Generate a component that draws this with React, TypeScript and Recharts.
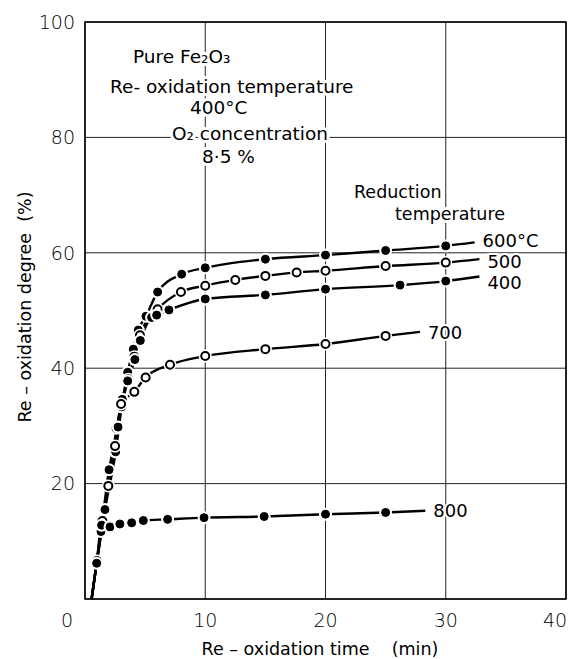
import React from 'react';
import { LineChart, Line, XAxis, YAxis, CartesianGrid, ReferenceArea } from 'recharts';

const WIDTH = 575;
const HEIGHT = 659;
const FONT = '"DejaVu Sans", sans-serif';

const xTicks = [0, 10, 20, 30, 40];
const yTicks = [20, 40, 60, 80, 100];

// [re-oxidation time (min), re-oxidation degree (%)]
const s600: [number, number][] = [
  [0.55, 0], [1.66, 15.5], [2.55, 25.5], [3.05, 33.3], [3.55, 39.3], [4.02, 43.3], [4.43, 46.6],
  [5.07, 49.0], [6.04, 53.2], [8.04, 56.3], [10, 57.4], [15, 58.9], [20, 59.6], [25, 60.4],
  [30, 61.2], [32.4, 61.8],
];
const s500: [number, number][] = [
  [0.55, 0], [1.0, 6.6], [1.94, 19.6], [2.63, 29.6], [3.6, 38.1], [4.1, 42.0], [4.57, 45.7],
  [6.04, 50.2], [7.98, 53.2], [10, 54.3], [12.5, 55.3], [15, 56.0], [17.6, 56.6], [20, 56.9],
  [25, 57.7], [30, 58.3], [32.8, 58.9],
];
const s400: [number, number][] = [
  [0.55, 0], [1.33, 11.7], [2.0, 22.4], [2.75, 29.8], [3.1, 34.6], [3.55, 37.8], [4.15, 41.5],
  [4.6, 44.8], [5.54, 48.8], [5.96, 49.2], [6.98, 50.1], [10, 52.0], [15, 52.7], [20, 53.7],
  [26.2, 54.4], [30, 55.1], [32.8, 55.9],
];
const s700: [number, number][] = [
  [0.55, 0], [1.45, 13.5], [2.5, 26.5], [3.0, 33.8], [4.1, 35.9], [5.04, 38.4], [7.07, 40.6],
  [10, 42.1], [15, 43.3], [20, 44.2], [25, 45.6], [27.85, 46.3],
];
const s800: [number, number][] = [
  [0.55, 0], [0.97, 6.2], [1.38, 12.8], [2.08, 12.5], [2.9, 13.0], [3.88, 13.2], [4.85, 13.6],
  [6.87, 13.8], [9.9, 14.1], [14.9, 14.3], [20, 14.7], [25, 15.0], [28.3, 15.3],
];

const series = [
  { name: '600°C', pts: s600, open: false },
  { name: '500', pts: s500, open: true },
  { name: '400', pts: s400, open: false },
  { name: '700', pts: s700, open: true },
  { name: '800', pts: s800, open: false },
];

// small vertical nudges so the end labels sit like the original ones
const labelDy: Record<string, number> = { '600°C': -2, '500': 3, '400': 6, '700': 1, '800': 0 };

const toRows = (pts: [number, number][]) => pts.map(([t, d]) => ({ t, d }));

// no marker on the first (origin) and last (label anchor) points
const makeDot = (n: number, open: boolean) => (p: any) => {
  const { cx, cy, index } = p;
  if (index === 0 || index === n - 1 || cx == null) return <g key={`d${index}`} />;
  return (
    <g key={`d${index}`}>
      <circle cx={cx} cy={cy} r={6.5} fill="#fff" />
      <circle
        cx={cx}
        cy={cy}
        r={4}
        fill={open ? '#fff' : '#000'}
        stroke="#000"
        strokeWidth={open ? 2 : 1}
      />
    </g>
  );
};

const makeLabel = (n: number, name: string) => (p: any) => {
  if (p.index !== n - 1) return <g />;
  return (
    <text
      x={p.x + 8}
      y={p.y + labelDy[name]}
      dy="0.35em"
      fontSize={18}
      fontFamily={FONT}
      fill="#000"
      stroke="#fff"
      strokeWidth={4}
      paintOrder="stroke"
    >
      {name}
    </text>
  );
};

const XTick = (p: any) => {
  const v = p.payload.value;
  // the original puts "0" left of the axis and "40" inside the frame
  const x = v === 0 ? p.x - 18 : v === 40 ? p.x - 11 : p.x;
  return (
    <text x={x} y={p.y} dy="0.71em" textAnchor="middle" fontSize={19} fontFamily={FONT} fontWeight={200} fill="#000">
      {v}
    </text>
  );
};

const haloText = {
  fontFamily: FONT,
  fill: '#000',
  stroke: '#fff',
  strokeWidth: 6,
  paintOrder: 'stroke',
  strokeLinejoin: 'round',
} as any;

const gap = '\u00a0\u00a0\u00a0\u00a0';

export default function App() {
  return (
    <div style={{ position: 'absolute', left: 0, top: 0, width: WIDTH, height: HEIGHT, background: '#fff' }}>
      <LineChart
        width={WIDTH}
        height={HEIGHT}
        margin={{ top: 22, right: 9, bottom: 0, left: 0 }}
      >
        <CartesianGrid stroke="#222" strokeWidth={1} />
        <XAxis
          dataKey="t"
          type="number"
          domain={[0, 40]}
          ticks={xTicks}
          axisLine={false}
          tickLine={false}
          tickSize={0}
          tickMargin={15}
          height={60}
          tick={<XTick />}
        />
        <YAxis
          type="number"
          domain={[0, 100]}
          ticks={yTicks}
          axisLine={false}
          tickLine={false}
          tickSize={0}
          tickMargin={10}
          width={85}
          tick={{ fontSize: 19, fill: '#000', fontFamily: FONT, fontWeight: 200 }}
        />
        <ReferenceArea x1={0} x2={40} y1={0} y2={100} fill="none" stroke="#000" strokeWidth={1.5} />
        {series.map((s) => (
          <Line
            key={s.name}
            data={toRows(s.pts)}
            dataKey="d"
            type="monotone"
            stroke="#000"
            strokeWidth={2.4}
            dot={makeDot(s.pts.length, s.open)}
            activeDot={false}
            label={makeLabel(s.pts.length, s.name)}
            isAnimationActive={false}
          />
        ))}
      </LineChart>
      <svg
        width={WIDTH}
        height={HEIGHT}
        style={{ position: 'absolute', left: 0, top: 0, pointerEvents: 'none' }}
      >
        <g style={haloText} fontSize={18.5}>
          <text x={133} y={63}>Pure Fe₂O₃</text>
          <text x={110} y={93}>Re- oxidation temperature</text>
          <text x={190} y={114}>400°C</text>
          <text x={172} y={140}>O₂ concentration</text>
          <text x={202} y={163}>8·5 %</text>
        </g>
        <g style={haloText} fontSize={17.5}>
          <text x={354} y={198}>Reduction</text>
          <text x={395} y={220}>temperature</text>
        </g>
        <g style={haloText} fontSize={17.5}>
          <text x={320} y={655} textAnchor="middle">{`Re – oxidation time${gap}(min)`}</text>
          <text transform="rotate(-90)" x={-307} y={31} textAnchor="middle">{`Re – oxidation degree\u00a0\u00a0(%)`}</text>
        </g>
      </svg>
    </div>
  );
}
